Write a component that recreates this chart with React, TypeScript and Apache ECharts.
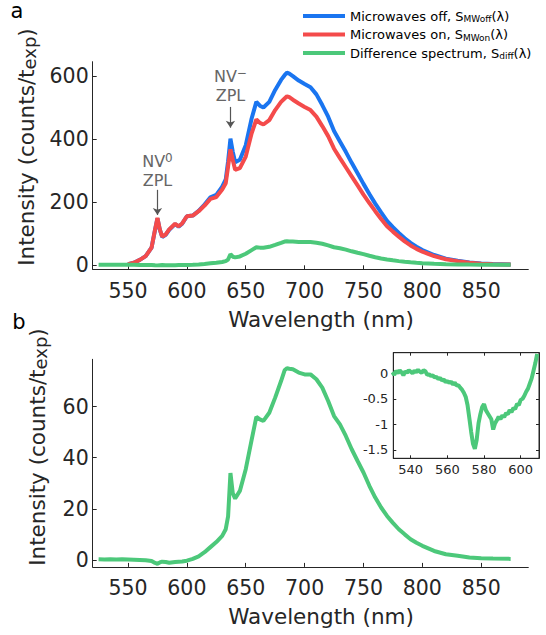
import React, { useEffect, useRef } from "react";
import * as echarts from "echarts";

const FONT = "'DejaVu Sans', Verdana, sans-serif";
const AXIS_COLOR = "#262626";
const BLUE = "#1a75f0";
const RED = "#f44b4b";
const GREEN = "#4cc87a";

// wavelength grid (nm)
const wavelength = [
  525, 530, 535, 540, 545, 550, 555, 560, 565, 570, 573, 575, 577, 579, 582, 585, 590, 593, 596, 600,
  605, 610, 615, 620, 625, 630, 633, 635, 637, 639, 641, 645, 650, 655, 659, 662, 665, 670, 675, 680,
  683, 685, 687, 690, 695, 700, 705, 710, 715, 720, 725, 730, 735, 740, 745, 750, 755, 760, 765, 770,
  775, 780, 785, 790, 795, 800, 810, 820, 830, 840, 850, 860, 875,
];
// Microwaves off, S_MWoff
const mwOff = [
  null, null, null, null, null, 2, 7, 16, 28, 55, 112, 148, 112, 89, 96, 112, 130, 122, 131, 155,
  157, 172, 192, 215, 223, 249, 272, 330, 402, 360, 327, 335, 381, 466, 519, 507, 501, 519, 557, 589,
  604, 612, 609, 601, 587, 576, 566, 543, 509, 472, 426, 393, 360, 325, 292, 258, 226, 195, 167, 140,
  120, 102, 85, 70, 58, 47.5, 31.5, 20, 13.6, 8, 4.6, 2.5, 1.4,
];
// Microwaves on, S_MWon
const mwOn = [
  null, null, null, null, null, 2, 7, 16, 28, 55, 113, 150, 113, 90, 97, 113, 131, 123, 132, 155,
  157, 171, 189, 210, 216, 240, 260, 313, 368, 334, 303, 308, 345, 419, 463, 452, 447, 461, 493, 519,
  530, 537, 534, 526, 514, 503, 493, 472, 442, 410, 370, 340, 311, 282, 253, 224, 197, 171, 146, 123,
  106, 90, 75, 62, 51, 42, 28, 18, 12, 7, 4, 2, 1,
];
// Difference spectrum, S_diff
const diff = [
  0.3, 0.2, 0.3, 0.2, 0.3, 0.2, 0.1, 0, -0.1, -0.4, -1.2, -1.5, -1.0, -0.7, -0.8, -1.1, -0.8, -0.7, -0.6, -0.3,
  0.4, 1.4, 3, 5, 7, 9.4, 12, 17, 34, 26, 24, 27, 35.5, 47, 56, 55, 54.4, 57.6, 63.5, 70,
  74.2, 75, 74.8, 74.6, 73.3, 72.6, 72.6, 70.7, 67.4, 62.2, 56.3, 53, 48.5, 43.3, 38.7, 34.2, 29, 24.4, 20.5, 17.2,
  14.5, 12, 10, 8.1, 6.7, 5.5, 3.5, 2.2, 1.6, 0.9, 0.65, 0.5, 0.4,
];

// inset (zoom on NV0 region)
const insetWavelength = [
  530, 531, 532, 533, 534, 535, 536, 537, 538, 539, 540, 541, 542, 543, 544, 545, 546, 547, 548, 549,
  550, 551, 552, 553, 554, 555, 556, 557, 558, 559, 560, 561, 562, 563, 564, 565, 566, 567, 568, 569,
  570, 571, 572, 573, 574, 575, 576, 577, 578, 579, 580, 581, 582, 583, 584, 585, 586, 587, 588, 589,
  590, 591, 592, 593, 594, 595, 596, 597, 598, 599, 600, 601, 602, 603, 604, 605, 606, 607, 608, 609,
];
const insetDiff = [
  0.02, -0.03, 0.05, 0.0, 0.06, 0.02, -0.04, 0.04, 0.01, 0.06, 0.03, 0.0, 0.05, 0.02, 0.07, 0.03, 0.01, 0.06, 0.04, -0.03,
  -0.02, -0.05, -0.04, -0.08, -0.07, -0.11, -0.09, -0.14, -0.12, -0.17, -0.15, -0.19, -0.16, -0.22, -0.18, -0.24, -0.23, -0.28, -0.32, -0.38,
  -0.46, -0.62, -0.88, -1.15, -1.38, -1.48, -1.3, -0.98, -0.8, -0.66, -0.6, -0.72, -0.78, -0.84, -0.9, -1.1, -0.98, -0.92, -0.85, -0.9,
  -0.82, -0.86, -0.78, -0.8, -0.72, -0.76, -0.68, -0.7, -0.6, -0.62, -0.52, -0.5, -0.44, -0.36, -0.3, -0.2, -0.1, 0.05, 0.2, 0.38,
];

const xTicks = [550, 600, 650, 700, 750, 800, 850];
const yTicksA = [0, 200, 400, 600];
const yTicksB = [0, 20, 40, 60];
const insetXTicks = [540, 560, 580, 600];
const insetYTicks = [-1.5, -1, -0.5, 0];

const legendNames = ["off", "on", "diff"];
const legendLabels: Record<string, string> = {
  off: "{t|Microwaves off, S}{s|MWoff}{t|(λ)}",
  on: "{t|Microwaves on, S}{s|MWon}{t|(λ)}",
  diff: "{t|Difference spectrum, S}{s|diff}{t|(λ)}",
};

const pairs = (xs: number[], ys: (number | null)[]) => xs.map((x, i) => [x, ys[i]]);

function mainX(gridIndex: number) {
  return {
    type: "value",
    gridIndex,
    min: 520,
    max: 890,
    axisLine: { show: true, onZero: false, lineStyle: { color: AXIS_COLOR, width: 1 } },
    axisTick: { show: true, inside: true, length: 4, customValues: xTicks, lineStyle: { color: AXIS_COLOR } },
    axisLabel: { customValues: xTicks, fontSize: 20.5, color: AXIS_COLOR, fontFamily: FONT, margin: 11 },
    splitLine: { show: false },
  };
}
function mainY(gridIndex: number, min: number, max: number, ticks: number[]) {
  return {
    type: "value",
    gridIndex,
    min,
    max,
    axisLine: { show: true, onZero: false, lineStyle: { color: AXIS_COLOR, width: 1 } },
    axisTick: { show: true, inside: true, length: 4, customValues: ticks, lineStyle: { color: AXIS_COLOR } },
    axisLabel: { customValues: ticks, fontSize: 20.5, color: AXIS_COLOR, fontFamily: FONT, margin: 4 },
    splitLine: { show: false },
  };
}

export default function App() {
  const ref = useRef<HTMLDivElement>(null);
  useEffect(() => {
    if (!ref.current) return;
    const chart = echarts.init(ref.current, undefined, { renderer: "svg" });
    const lineBase = { type: "line", showSymbol: false, symbol: "none", silent: true };
    const ytitle = (x: number, y: number) => ({
      type: "text",
      x,
      y,
      rotation: Math.PI / 2,
      style: {
        text: "{m|Intensity (counts/t}{s|exp}{m|)}",
        align: "center",
        verticalAlign: "middle",
        rich: {
          m: { fontSize: 21.5, fontFamily: FONT, fill: AXIS_COLOR, lineHeight: 24 },
          s: { fontSize: 18, fontFamily: FONT, fill: AXIS_COLOR, lineHeight: 10, verticalAlign: "bottom" },
        },
      },
    });
    const option = {
      animation: false,
      backgroundColor: "#fff",
      grid: [
        { left: 92.7, top: 61.7, width: 435.6, height: 207.6 },
        { left: 92.7, top: 359.3, width: 435.6, height: 207.6 },
        {
          left: 393.3, top: 352.7, width: 145.7, height: 105.6, show: true,
          backgroundColor: "#fff", borderColor: AXIS_COLOR, borderWidth: 1, z: 5,
        },
      ],
      xAxis: [
        mainX(0),
        mainX(1),
        {
          type: "value", gridIndex: 2, min: 530.5, max: 610, z: 6,
          axisLine: { show: true, onZero: false, lineStyle: { color: AXIS_COLOR } },
          axisTick: { show: true, inside: true, length: 3, customValues: insetXTicks, lineStyle: { color: AXIS_COLOR } },
          axisLabel: { customValues: insetXTicks, fontSize: 13, color: AXIS_COLOR, fontFamily: FONT, margin: 5 },
          splitLine: { show: false },
        },
        {
          type: "value", gridIndex: 2, min: 530.5, max: 610, position: "top", z: 6,
          axisLine: { show: true, onZero: false, lineStyle: { color: AXIS_COLOR } },
          axisTick: { show: true, inside: true, length: 3, customValues: insetXTicks, lineStyle: { color: AXIS_COLOR } },
          axisLabel: { show: false },
          splitLine: { show: false },
        },
      ],
      yAxis: [
        mainY(0, -14, 647, yTicksA),
        mainY(1, -2.74, 78.5, yTicksB),
        {
          type: "value", gridIndex: 2, min: -1.663, max: 0.403, z: 6,
          axisLine: { show: true, onZero: false, lineStyle: { color: AXIS_COLOR } },
          axisTick: { show: true, inside: true, length: 3, customValues: insetYTicks, lineStyle: { color: AXIS_COLOR } },
          axisLabel: { customValues: insetYTicks, fontSize: 13, color: AXIS_COLOR, fontFamily: FONT, margin: 5 },
          splitLine: { show: false },
        },
        {
          type: "value", gridIndex: 2, min: -1.663, max: 0.403, position: "right", z: 6,
          axisLine: { show: true, onZero: false, lineStyle: { color: AXIS_COLOR } },
          axisTick: { show: true, inside: true, length: 3, customValues: insetYTicks, lineStyle: { color: AXIS_COLOR } },
          axisLabel: { show: false },
          splitLine: { show: false },
        },
      ],
      legend: {
        data: legendNames,
        orient: "vertical",
        left: 303,
        top: 9.5,
        padding: 0,
        itemWidth: 42,
        itemHeight: 4,
        itemGap: 4.5,
        icon: "rect",
        selectedMode: false,
        formatter: (name: string) => legendLabels[name],
        textStyle: {
          rich: {
            t: { fontSize: 13, fontFamily: FONT, color: "#000", lineHeight: 15 },
            s: { fontSize: 9, fontFamily: FONT, color: "#000", lineHeight: 9, verticalAlign: "bottom" },
          },
        },
      },
      series: [
        {
          ...lineBase, name: "off", xAxisIndex: 0, yAxisIndex: 0,
          data: pairs(wavelength, mwOff),
          lineStyle: { color: BLUE, width: 4 }, itemStyle: { color: BLUE },
        },
        {
          ...lineBase, name: "on", xAxisIndex: 0, yAxisIndex: 0,
          data: pairs(wavelength, mwOn),
          lineStyle: { color: RED, width: 4 }, itemStyle: { color: RED },
          markLine: {
            silent: true,
            symbol: ["none", "arrow"],
            symbolSize: 7,
            label: { show: false },
            lineStyle: { color: "#555", width: 1.2, type: "solid" },
            emphasis: { disabled: true },
            data: [
              [{ coord: [575, 239] }, { coord: [575, 159] }],
              [{ coord: [637, 503] }, { coord: [637, 437] }],
            ],
          },
          markPoint: {
            silent: true,
            symbol: "rect",
            symbolSize: 1,
            itemStyle: { color: "rgba(0,0,0,0)" },
            label: {
              show: true, position: "inside", align: "center",
              rich: {
                n: { fontSize: 16, lineHeight: 19, fontFamily: FONT, color: "#666" },
                p: { fontSize: 12, lineHeight: 10, fontFamily: FONT, color: "#666", verticalAlign: "top" },
              },
            },
            data: [
              { coord: [575, 300], label: { formatter: "{n|NV}{p|0}\n{n|ZPL}" } },
              { coord: [637, 569], label: { formatter: "{n|NV}{p|−}\n{n|ZPL}" } },
            ],
          },
        },
        {
          ...lineBase, name: "diff", xAxisIndex: 0, yAxisIndex: 0,
          data: pairs(wavelength, diff),
          lineStyle: { color: GREEN, width: 4 }, itemStyle: { color: GREEN },
        },
        {
          ...lineBase, name: "diffB", xAxisIndex: 1, yAxisIndex: 1,
          data: pairs(wavelength, diff),
          lineStyle: { color: GREEN, width: 4 }, itemStyle: { color: GREEN },
        },
        {
          ...lineBase, name: "diffInset", xAxisIndex: 2, yAxisIndex: 2, z: 7,
          data: pairs(insetWavelength, insetDiff),
          clip: true,
          lineStyle: { color: GREEN, width: 4 }, itemStyle: { color: GREEN },
        },
      ],
      graphic: [
        { type: "text", x: 17, y: 11, style: { text: "a", fontSize: 21, fontFamily: FONT, fill: "#000", align: "center", verticalAlign: "middle" } },
        { type: "text", x: 19, y: 321.5, style: { text: "b", fontSize: 21, fontFamily: FONT, fill: "#000", align: "center", verticalAlign: "middle" } },
        { type: "text", x: 321, y: 319, style: { text: "Wavelength (nm)", fontSize: 21.5, fontFamily: FONT, fill: AXIS_COLOR, align: "center", verticalAlign: "middle" } },
        { type: "text", x: 321, y: 616, style: { text: "Wavelength (nm)", fontSize: 21.5, fontFamily: FONT, fill: AXIS_COLOR, align: "center", verticalAlign: "middle" } },
        ytitle(26.5, 147),
        ytitle(37.5, 447),
      ],
    };
    chart.setOption(option as any);
    return () => chart.dispose();
  }, []);
  return <div ref={ref} style={{ position: "absolute", left: 0, top: 0, width: 546, height: 635 }} />;
}
